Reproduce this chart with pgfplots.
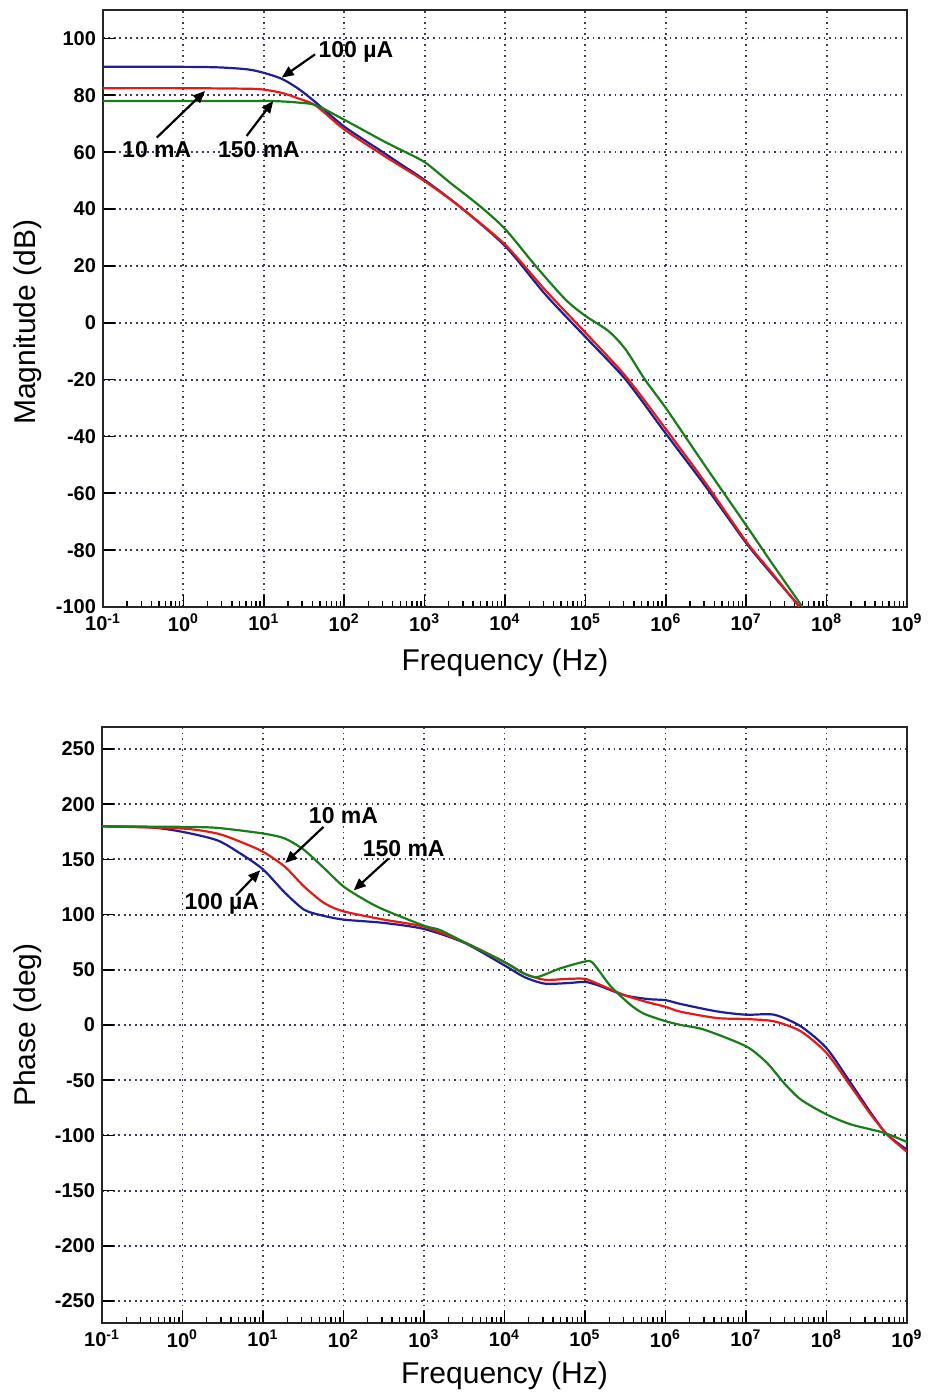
\documentclass[border=0pt]{standalone}
\usepackage{fontspec}
\setmainfont{Liberation Sans}
\usepackage{pgfplots}
\pgfplotsset{compat=1.18}
\usetikzlibrary{arrows.meta}
\definecolor{cblue}{RGB}{30,30,150}
\definecolor{cred}{RGB}{230,25,25}
\definecolor{cgreen}{RGB}{25,125,25}
\definecolor{cgrid}{RGB}{60,60,95}

\tikzset{
  arr/.style={-{Triangle[length=6pt,width=5pt]}, line width=1.1pt, black},
  ann/.style={font=\fontsize{11.5}{14}\selectfont\bfseries},
}

\begin{document}
\begin{tikzpicture}
\useasboundingbox (0,0) rectangle (467pt,696.5pt);

% ---------------- Magnitude ----------------
\begin{axis}[
  scale only axis, xmode=log, xmin=0.1, xmax=1e9,
  xtick={0.1,1,10,100,1000,1e4,1e5,1e6,1e7,1e8,1e9},
  minor xtick={2e-1,3e-1,4e-1,5e-1,6e-1,7e-1,8e-1,9e-1,2,3,4,5,6,7,8,9,20,30,40,50,60,70,80,90,200,300,400,500,600,700,800,900,2e3,3e3,4e3,5e3,6e3,7e3,8e3,9e3,2e4,3e4,4e4,5e4,6e4,7e4,8e4,9e4,2e5,3e5,4e5,5e5,6e5,7e5,8e5,9e5,2e6,3e6,4e6,5e6,6e6,7e6,8e6,9e6,2e7,3e7,4e7,5e7,6e7,7e7,8e7,9e7,2e8,3e8,4e8,5e8,6e8,7e8,8e8,9e8},
  xticklabels={10\textsuperscript{-1},10\textsuperscript{0},10\textsuperscript{1},10\textsuperscript{2},10\textsuperscript{3},10\textsuperscript{4},10\textsuperscript{5},10\textsuperscript{6},10\textsuperscript{7},10\textsuperscript{8},10\textsuperscript{9}},
  grid=major, major grid style={cgrid, line width=0.95pt, dash pattern=on 0.95pt off 1.8pt},
  axis line style={line width=1pt, black!85},
  tick align=inside, xtick pos=bottom, ytick pos=left,
  major tick length=6pt, minor tick length=3.2pt,
  tick style={black, line width=0.8pt},
  minor tick style={black, line width=0.7pt},
  ticklabel style={font=\fontsize{10}{12}\selectfont\bfseries},
  /pgf/number format/assume math mode=true,
  label style={font=\fontsize{15}{18}\selectfont},
  xlabel={Frequency (Hz)},
  at={(51.5pt,393pt)}, anchor=south west,
  width=402pt, height=298.5pt,
  ymin=-100, ymax=110, ytick={-100,-80,-60,-40,-20,0,20,40,60,80,100},
  xlabel style={at={(axis description cs:0.5,-0.094)}, anchor=center},
  ylabel={Magnitude (dB)},
  ylabel style={at={(axis description cs:-0.093,0.477)}, anchor=center},
]
\addplot[cblue, line width=1.1pt, smooth, tension=0.45] table {
0.1 90
1 90
2.818 89.8
6.31 89.1
10 87.9
16.98 85.7
27.54 82.1
44.67 77.4
100 69
302 60
490 56
1000 50.2
2692 41
1e4 27
3.162e4 10
1e5 -5
3.162e5 -20
1e6 -39
3.09e6 -57.4
1e7 -77.5
2.089e7 -88.5
4.677e7 -100
};
\addplot[cred, line width=1.1pt, smooth, tension=0.45] table {
0.1 82.5
1 82.5
6.31 82.3
10 82
16.98 80.8
27.54 78.8
44.67 76.3
100 68
302 59
490 55.3
1000 49.8
2692 41
1e4 27.5
3.162e4 11.5
1e5 -3.5
3.162e5 -18.8
1e6 -37.4
3.09e6 -56.2
1e7 -77
2.089e7 -88
4.571e7 -100
};
\addplot[cgreen, line width=1.1pt, smooth, tension=0.45] table {
0.1 78
1 78
10 78
17.78 77.8
27.54 77.4
44.67 76.5
100 71.4
302 64
490 61
1000 56.5
2042 49.4
4786 41.2
1e4 33
2.399e4 20
5.623e4 8.2
1e5 2.4
1.95e5 -3
3.162e5 -9.4
5.495e5 -20
1e6 -30
3.09e6 -50.4
1e7 -71.3
2.089e7 -84.6
5.012e7 -100
};
\node[ann] at (axis cs:140,95.4) {100 µA};
\draw[arr] (axis cs:43.4,94.4) -- (axis cs:16.7,86.2);
\node[ann] at (axis cs:0.466,60.8) {10 mA};
\draw[arr] (axis cs:0.466,65.1) -- (axis cs:1.86,81.5);
\node[ann] at (axis cs:8.7,60.8) {150 mA};
\draw[arr] (axis cs:6.12,65.7) -- (axis cs:13.1,78.0);
\end{axis}

% ---------------- Phase ----------------
\begin{axis}[
  scale only axis, xmode=log, xmin=0.1, xmax=1e9,
  xtick={0.1,1,10,100,1000,1e4,1e5,1e6,1e7,1e8,1e9},
  minor xtick={2e-1,3e-1,4e-1,5e-1,6e-1,7e-1,8e-1,9e-1,2,3,4,5,6,7,8,9,20,30,40,50,60,70,80,90,200,300,400,500,600,700,800,900,2e3,3e3,4e3,5e3,6e3,7e3,8e3,9e3,2e4,3e4,4e4,5e4,6e4,7e4,8e4,9e4,2e5,3e5,4e5,5e5,6e5,7e5,8e5,9e5,2e6,3e6,4e6,5e6,6e6,7e6,8e6,9e6,2e7,3e7,4e7,5e7,6e7,7e7,8e7,9e7,2e8,3e8,4e8,5e8,6e8,7e8,8e8,9e8},
  xticklabels={10\textsuperscript{-1},10\textsuperscript{0},10\textsuperscript{1},10\textsuperscript{2},10\textsuperscript{3},10\textsuperscript{4},10\textsuperscript{5},10\textsuperscript{6},10\textsuperscript{7},10\textsuperscript{8},10\textsuperscript{9}},
  grid=major, major grid style={cgrid, line width=0.95pt, dash pattern=on 0.95pt off 1.8pt},
  axis line style={line width=1pt, black!85},
  tick align=inside, xtick pos=bottom, ytick pos=left,
  major tick length=6pt, minor tick length=3.2pt,
  tick style={black, line width=0.8pt},
  minor tick style={black, line width=0.7pt},
  ticklabel style={font=\fontsize{10}{12}\selectfont\bfseries},
  /pgf/number format/assume math mode=true,
  label style={font=\fontsize{15}{18}\selectfont},
  xlabel={Frequency (Hz)},
  at={(51pt,35pt)}, anchor=south west,
  width=402.5pt, height=298pt,
  ymin=-270, ymax=270, ytick={-250,-200,-150,-100,-50,0,50,100,150,200,250},
  xlabel style={at={(axis description cs:0.5,-0.089)}, anchor=center},
  ylabel={Phase (deg)},
  ylabel style={at={(axis description cs:-0.092,0.5)}, anchor=center},
]
\addplot[cblue, line width=1.1pt, smooth, tension=0.45] table {
0.1 180
0.407 179
1 175
2.692 167.4
5.248 155.3
10 141
18.62 120
32.36 104.5
52.48 99.5
100 95.5
316 92.5
1000 87
3162 74.5
1e4 54
1.778e4 43.3
3.162e4 37.5
6.166e4 38
1e5 39
1.445e5 36
3.09e5 27
6.026e5 23.5
1e6 22.5
1.549e6 19
4.365e6 12.3
1e7 9.3
2.239e7 9.3
4.786e7 -1.2
1e8 -21
1.995e8 -52.4
3.548e8 -79.5
5.623e8 -99
1e9 -113
};
\addplot[cred, line width=1.1pt, smooth, tension=0.45] table {
0.1 180
1 178
2.692 173.5
5.248 166
10 157
18.62 143.5
32.36 125.5
57.54 110.5
100 103
316 95.5
1000 89
3162 75
1e4 57
1.778e4 46.4
3.162e4 41
6.166e4 41.8
1e5 41.8
1.445e5 37.3
3.09e5 27
6.026e5 20.6
1e6 16.5
1.549e6 12
4.365e6 6.3
1e7 5.4
2.239e7 3.3
4.786e7 -5.7
1e8 -25.3
1.995e8 -55.4
3.548e8 -81
5.623e8 -99
1e9 -115
};
\addplot[cgreen, line width=1.1pt, smooth, tension=0.45] table {
0.1 180
1 179.5
2.692 178.6
10 173.5
18.62 169
32.36 158.6
57.54 142
100 125.5
182 113.5
316 104.5
1000 90
1585 86
3162 75
1e4 57
1.778e4 46.4
2.57e4 43.5
4.786e4 51
1e5 57.5
1.259e5 56
2.089e5 35
3.715e5 18
5.495e5 10
1e6 3.5
1.549e6 0
3.02e6 -4.2
1e7 -19.3
1.82e7 -34.3
2.951e7 -52.4
4.786e7 -67.5
1e8 -81
1.995e8 -90
5.129e8 -97.6
1e9 -106
};
\node[ann] at (axis cs:100,190) {10 mA};
\draw[arr] (axis cs:56.5,179.5) -- (axis cs:18.9,146.8);
\node[ann] at (axis cs:560,160) {150 mA};
\draw[arr] (axis cs:363,150.8) -- (axis cs:134,122);
\node[ann] at (axis cs:3.08,109.4) {100 µA};
\draw[arr] (axis cs:4.64,117.5) -- (axis cs:9.23,140.2);
\end{axis}
\end{tikzpicture}
\end{document}
